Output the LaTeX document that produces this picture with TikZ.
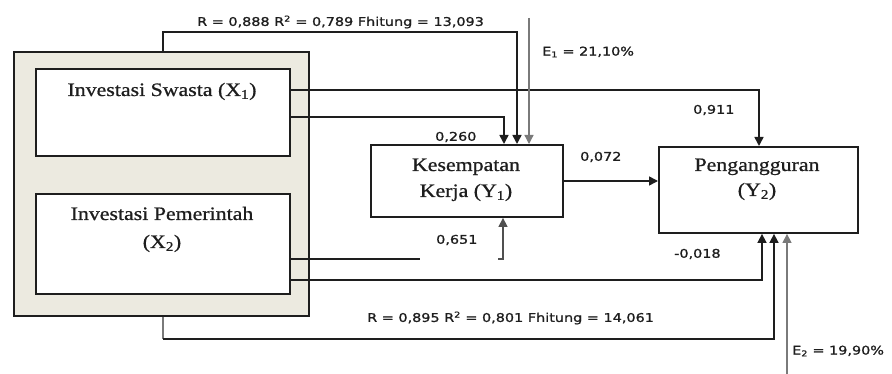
\documentclass[tikz,border=0pt]{standalone}
\usepackage{fontspec}
\usetikzlibrary{arrows.meta}
\newfontfamily\labfont[FakeStretch=1.2,FakeBold=1.2]{DejaVu Sans}
\newfontfamily\boxfont[FakeStretch=1.15,FakeBold=0.8]{Liberation Serif}
\definecolor{panel}{HTML}{ECEAE0}
\definecolor{ink}{HTML}{1E1E1E}
\definecolor{greyline}{HTML}{7A7A7A}
\definecolor{darkgrey}{HTML}{505050}
\begin{document}
\begin{tikzpicture}[x=1pt,y=-1pt,
  frame/.style={draw=ink, line width=1.9pt, inner sep=0pt, anchor=north west},
  conn/.style={draw=ink, line width=1.6pt},
  tip/.style={-{Triangle[length=9pt,width=9pt]}},
  arr/.style={conn, tip},
  garr/.style={draw=greyline, line width=1.3pt, tip},
  lab/.style={font=\labfont\fontsize{12}{14}\selectfont, text=ink, inner sep=0pt, anchor=west},
  btxt/.style={font=\boxfont\fontsize{19}{22}\selectfont, text=ink, inner sep=0pt, anchor=base},
]
\useasboundingbox (0,0) rectangle (892,374);

% boxes
\node[frame, fill=panel, minimum width=295pt, minimum height=264pt] (outer) at (13,51) {};
\node[frame, fill=white, minimum width=254pt, minimum height=87pt] (x1) at (35,68) {};
\node[frame, fill=white, minimum width=254pt, minimum height=100pt] (x2) at (35,193) {};
\node[frame, fill=white, minimum width=192pt, minimum height=72pt] (y1) at (370,144) {};
\node[frame, fill=white, minimum width=199pt, minimum height=86pt] (y2) at (658,146) {};

% box texts
\node[btxt] (x1t) at (162,96) {Investasi Swasta (X\textsubscript{1})};
\node[btxt] (x2t) at (162,220) {Investasi Pemerintah};
\node[btxt] (x2u) at (162,248) {(X\textsubscript{2})};
\node[btxt] (y1t) at (466,171) {Kesempatan};
\node[btxt] (y1u) at (466,197) {Kerja (Y\textsubscript{1})};
\node[btxt] (y2t) at (757,171) {Pengangguran};
\node[btxt] (y2u) at (757,196) {(Y\textsubscript{2})};

% free ends
\coordinate (e1top) at (529,18);
\coordinate (e2bot) at (787,374);
\coordinate (cut) at (420,259);
\coordinate (tick) at (498,259);

% connectors
\draw[arr] (outer.north -| 163,0) -- (163,32) -- (517,32) -- (y1.north -| 517,0);
\draw[arr] (x1.east |- 0,90) -- (759,90) -- (y2.north -| 759,0);
\draw[arr] (x1.east |- 0,117) -- (504,117) -- (y1.north -| 504,0);
\draw[garr] (e1top) -- (y1.north -| e1top);
\draw[arr] (y1.east |- 0,181) -- (y2.west |- 0,181);
\draw[conn] (x2.east |- cut) -- (cut);
\draw[draw=darkgrey, line width=1.4pt, tip] (tick) -- (503,259) -- (y1.south -| 503,0);
\draw[arr] (x2.east |- 0,280) -- (762,280) -- (y2.south -| 762,0);
\draw[draw=greyline, line width=1.6pt] (outer.south -| 163,0) -- (163,339);
\draw[arr] (163,339) -- (774,339) -- (y2.south -| 774,0);
\draw[garr] (e2bot) -- (y2.south -| e2bot);

% labels
\node[lab] (l1) at (197,22) {R = 0,888 R\textsuperscript{2} = 0,789 Fhitung = 13,093};
\node[lab] (le1) at (542,52) {E\textsubscript{1} = 21,10\%};
\node[lab] (l911) at (693,110) {0,911};
\node[lab] (l260) at (435,137) {0,260};
\node[lab] (l072) at (580,157) {0,072};
\node[lab] (l651) at (436,240) {0,651};
\node[lab] (l018) at (674,254) {-0,018};
\node[lab] (l2) at (367,318) {R = 0,895 R\textsuperscript{2} = 0,801 Fhitung = 14,061};
\node[lab] (le2) at (792,351) {E\textsubscript{2} = 19,90\%};
\end{tikzpicture}
\end{document}
